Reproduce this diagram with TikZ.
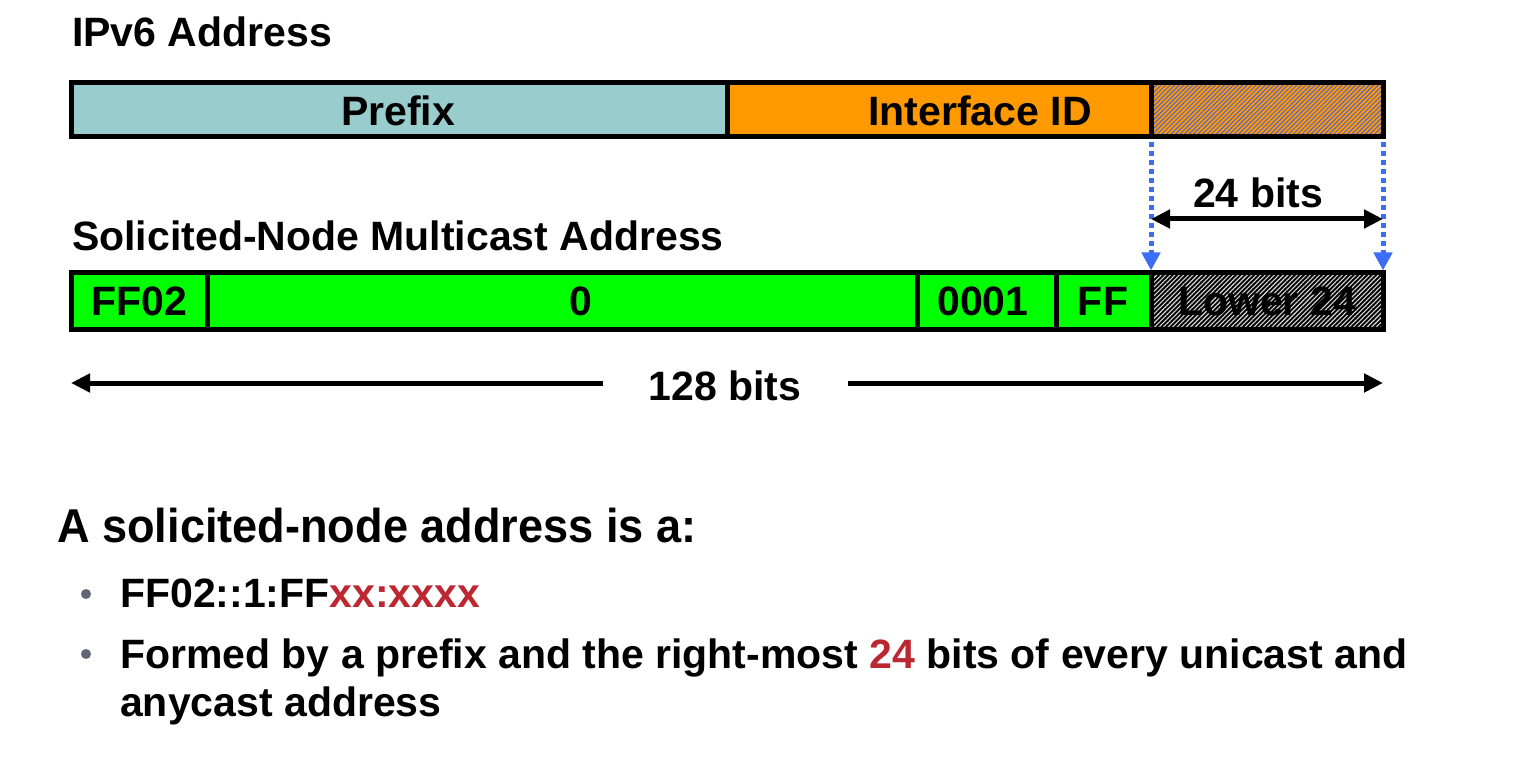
\documentclass[tikz,border=0pt]{standalone}
\usepackage{fontspec}
\setmainfont{Liberation Sans}
\newfontfamily\condfont[FakeStretch=0.95]{Liberation Sans}
\usepackage{tikz}
\usetikzlibrary{patterns,patterns.meta}
\usetikzlibrary{arrows.meta,positioning}
\definecolor{prefixcol}{RGB}{153,204,204}
\definecolor{iidcol}{RGB}{255,153,0}
\definecolor{mcastcol}{RGB}{0,255,0}
\definecolor{dropblue}{RGB}{59,110,245}
\definecolor{hatchblue}{RGB}{70,100,225}
\definecolor{hexred}{RGB}{188,40,50}
\definecolor{dotgrey}{RGB}{95,102,115}
\newcommand{\txtsize}{\fontsize{41pt}{48pt}\selectfont\bfseries}
\tikzset{field/.style={draw, line width=5pt, inner sep=0pt, outer sep=0pt, anchor=north west}}
\tikzset{lbl/.style={anchor=base, inner sep=0pt, font=\txtsize}}
\tikzset{headtxt/.style={anchor=base west, inner sep=0pt, font=\txtsize}}
\tikzset{dimline/.style={line width=5pt}}
\tikzset{droparrow/.style={draw=dropblue, line width=5pt, dash pattern=on 5pt off 4pt, -{Triangle[length=18pt,width=18pt]}}}
\tikzset{bulletdot/.style={circle, fill=dotgrey, inner sep=0pt, minimum size=10pt}}

\begin{document}
\begin{tikzpicture}[x=1pt,y=-1pt,>={Triangle[length=19pt,width=18pt]}]
\useasboundingbox (0,0) rectangle (1532,762);

\node[headtxt] (ipv6) at (72,47) {IPv6 Address};
\node[field, fill=prefixcol, minimum width=656pt, minimum height=54pt] (prefix) at (71,83) {};
\node[field, fill=iidcol, minimum width=424pt, minimum height=54pt] (iid) at (727,83) {};
\node[field, preaction={fill=iidcol}, pattern={Lines[angle=45,distance=3.2pt,line width=1pt]}, pattern color=hatchblue, minimum width=232pt, minimum height=54pt] (hatch) at (1151,83) {};
\node[lbl] (prefixtxt) at (398,126) {Prefix};
\node[lbl] (iidtxt) at (980,126) {Interface ID};

\node[headtxt] (snm) at (72,251) {Solicited-Node Multicast Address};
\node[field, fill=mcastcol, minimum width=136pt, minimum height=56pt] (ff02) at (71,273) {};
\node[field, fill=mcastcol, minimum width=710pt, minimum height=56pt] (zeros) at (207,273) {};
\node[field, fill=mcastcol, minimum width=139pt, minimum height=56pt] (one) at (917,273) {};
\node[field, fill=mcastcol, minimum width=95pt, minimum height=56pt] (ff) at (1056,273) {};
\node[field, preaction={fill=black}, pattern={Lines[angle=45,distance=3.2pt,line width=1.1pt]}, pattern color=white!85!black, minimum width=232pt, minimum height=56pt] (low24) at (1151,273) {};
\node[lbl] (ff02txt) at (139,316) {FF02};
\node[lbl] (zerostxt) at (581,316) {0};
\node[lbl] (onetxt) at (983,316) {0001};
\node[lbl] (fftxt) at (1103,316) {FF};
\node[lbl] (low24txt) at (1267,316) {Lower 24};

% the 24 bits are copied down
\draw[droparrow] ([yshift=-5pt]hatch.south west) -- ([yshift=2.5pt]low24.north west);
\draw[droparrow] ([yshift=-5pt]hatch.south east) -- ([yshift=2.5pt]low24.north east);
\node[lbl] (bits24) at (1258,208) {24 bits};
\coordinate (b24l) at (1151,219);
\coordinate (b24r) at (1383,219);
\draw[dimline, <->] (b24l) -- (b24r);

\node[lbl] (bits128) at (725,400) {128 bits};
\coordinate (b128l) at (71,383);
\coordinate (b128r) at (1383,383);
\coordinate (gapl) at (603,383);
\coordinate (gapr) at (848,383);
\draw[dimline, ->] (gapl) -- (b128l);
\draw[dimline, ->] (gapr) -- (b128r);

\node[anchor=base west, inner sep=0pt, font=\fontsize{47.5pt}{56pt}\selectfont\condfont\bfseries] (intro) at (57,542) {A solicited-node address is a:};
\node[bulletdot] (dot1) at (86,594) {};
\node[headtxt] (item1) at (120,607) {FF02::1:FF\textcolor{hexred}{xx:xxxx}};
\node[bulletdot] (dot2) at (86,654) {};
\node[headtxt] (item2a) at (120,668) {Formed by a prefix and the right-most \textcolor{hexred}{24} bits of every unicast and};
\node[headtxt] (item2b) at (120,716) {anycast address};
\end{tikzpicture}
\end{document}
